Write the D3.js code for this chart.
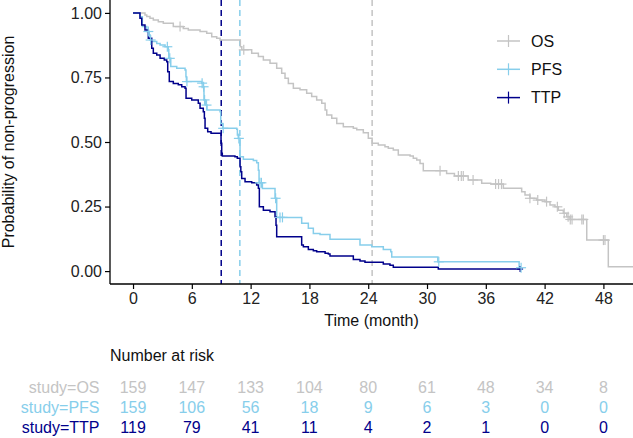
<!DOCTYPE html>
<html>
<head>
<meta charset="utf-8">
<script src="https://cdn.jsdelivr.net/npm/d3@7"></script>
<style>
body{margin:0;background:#fff;}
text{font-family:"Liberation Sans",Arial,sans-serif;}
</style>
</head>
<body>
<svg id="chart" width="633" height="438"></svg>
<script>
// curve steps: [time in months, survival after the step]
var osSteps=[[0,1],[1.22,0.992],[1.4,0.986],[1.73,0.979],[2.07,0.973],[2.58,0.966],[3.09,0.96],[4.11,0.947],[5.13,0.94],[5.64,0.934],[6.84,0.928],[7.52,0.921],[8.03,0.908],[8.54,0.902],[8.88,0.895],[10.95,0.869],[11.1,0.857],[12.11,0.844],[12.79,0.831],[13.3,0.818],[13.98,0.805],[14.66,0.786],[15.17,0.766],[15.51,0.747],[15.85,0.727],[16.36,0.708],[17.04,0.702],[17.72,0.689],[18.23,0.676],[18.74,0.663],[19.26,0.65],[19.6,0.624],[19.77,0.605],[20.28,0.592],[20.79,0.572],[21.46,0.559],[22.48,0.553],[22.83,0.547],[23.5,0.536],[24.01,0.515],[24.4,0.495],[25.03,0.488],[25.71,0.482],[26.05,0.476],[26.56,0.469],[27.07,0.45],[28.27,0.446],[28.6,0.437],[28.95,0.43],[29.29,0.417],[29.62,0.389],[32.0,0.378],[32.8,0.368],[34.2,0.353],[35.58,0.34],[36.5,0.337],[37.79,0.321],[39.66,0.307],[40.0,0.295],[40.51,0.282],[41.19,0.275],[42.04,0.269],[42.55,0.256],[43.06,0.249],[43.4,0.236],[43.91,0.224],[44.26,0.21],[44.59,0.2],[46.3,0.12],[48.5,0.017],[51.5,0.017]];
var pfsSteps=[[0,1],[0.71,0.985],[0.95,0.947],[1.4,0.928],[1.65,0.915],[1.73,0.895],[1.91,0.889],[2.42,0.882],[2.76,0.876],[3.27,0.869],[3.6,0.857],[3.65,0.824],[3.85,0.792],[4.46,0.786],[5.31,0.779],[5.4,0.753],[5.45,0.734],[7.01,0.728],[7.17,0.714],[7.24,0.663],[7.4,0.643],[7.55,0.624],[8.88,0.617],[8.95,0.572],[9.15,0.553],[10.58,0.549],[10.65,0.527],[10.74,0.514],[10.92,0.443],[11.26,0.433],[12.28,0.428],[12.62,0.42],[12.79,0.391],[12.86,0.342],[13.2,0.32],[14.49,0.282],[14.66,0.208],[17.21,0.185],[17.89,0.166],[18.4,0.146],[19.08,0.142],[20.1,0.123],[23.16,0.101],[24.36,0.094],[25.54,0.084],[26.3,0.075],[26.4,0.055],[31.1,0.036],[39.4,0.013],[39.6,0.013]];
var ttpSteps=[[0,1],[0.71,0.979],[0.89,0.953],[1.22,0.934],[1.56,0.902],[1.91,0.863],[2.07,0.844],[2.42,0.837],[2.76,0.824],[3.19,0.818],[3.44,0.811],[3.54,0.772],[3.7,0.734],[4.11,0.727],[4.62,0.722],[4.97,0.714],[5.31,0.708],[5.41,0.669],[5.99,0.663],[6.66,0.65],[6.84,0.631],[7.17,0.617],[7.28,0.592],[7.35,0.553],[7.62,0.54],[7.96,0.534],[8.98,0.495],[9.05,0.456],[9.11,0.446],[10.4,0.443],[10.64,0.437],[10.92,0.404],[11.0,0.385],[11.09,0.359],[11.43,0.346],[12.11,0.342],[12.62,0.333],[12.79,0.321],[12.89,0.249],[13.3,0.236],[13.98,0.23],[14.49,0.21],[14.59,0.178],[14.66,0.133],[17.21,0.101],[17.38,0.094],[17.89,0.084],[18.4,0.079],[18.74,0.075],[19.6,0.069],[19.93,0.066],[20.1,0.058],[22.48,0.045],[23.16,0.039],[23.67,0.034],[25.54,0.027],[26.22,0.023],[26.56,0.015],[31.15,0.008],[39.5,0.008]];

// censored observations: [time, survival]
var osCensor=[[4.8,0.947],[11.3,0.857],[31.33,0.389],[33.2,0.368],[33.5,0.368],[33.7,0.368],[34.7,0.353],[37.0,0.337],[37.3,0.337],[37.6,0.337],[40.5,0.282],[41.3,0.275],[42.2,0.269],[43.3,0.249],[44.0,0.224],[44.4,0.21],[44.62,0.2],[44.8,0.2],[45.8,0.2],[45.95,0.2],[48.0,0.12],[48.16,0.12]];
var pfsCensor=[[1.56,0.928],[1.8,0.895],[3.5,0.869],[3.75,0.824],[5.5,0.734],[7.05,0.728],[7.2,0.714],[7.3,0.663],[7.5,0.643],[9.2,0.553],[10.8,0.514],[12.95,0.342],[13.1,0.342],[14.55,0.282],[15.0,0.208],[15.25,0.208],[31.2,0.036],[39.6,0.013]];
var ttpCensor=[[39.5,0.008]];

// median survival times
var medians=[24.4,10.9,9.0];

var groups=['OS','PFS','TTP'];
var colors=['#c4c4c4','#87ceeb','#00008b'];
var riskTimes=[0,6,12,18,24,30,36,42,48];
var riskOS=[159,147,133,104,80,61,48,34,8];
var riskPFS=[159,106,56,18,9,6,3,0,0];
var riskTTP=[119,79,41,11,4,2,1,0,0];
var yTicks=[0,0.25,0.5,0.75,1];

var svg=d3.select('#chart');
var pLeft=110,pRight=633,pTop=0,pBottom=284;
var x=d3.scaleLinear().domain([-2.35,51.02]).range([pLeft,pRight]);
var y=d3.scaleLinear().domain([-0.05,1.05]).range([pBottom,pTop]);
var color=d3.scaleOrdinal().domain(groups).range(colors);

svg.append('clipPath').attr('id','panel').append('rect')
  .attr('x',pLeft).attr('y',pTop).attr('width',pRight-pLeft).attr('height',pBottom-pTop);
var plot=svg.append('g').attr('clip-path','url(#panel)');

// median lines
plot.selectAll('.med').data(medians).enter().append('line')
  .attr('x1',d=>x(d)).attr('x2',d=>x(d)).attr('y1',pTop).attr('y2',pBottom)
  .style('stroke',(d,i)=>color(groups[i])).style('stroke-width',1.5)
  .style('stroke-dasharray','6,4');

var line=d3.line().x(d=>x(d[0])).y(d=>y(d[1])).curve(d3.curveStepAfter);
var steps=[osSteps,pfsSteps,ttpSteps];
var censors=[osCensor,pfsCensor,ttpCensor];

steps.forEach((s,i)=>{
  plot.append('path').datum(s).attr('d',line)
    .style('fill','none').style('stroke',colors[i]).style('stroke-width',1.5);
});
// TTP marks first so the PFS crosses sit on top at the tail
[2,0,1].forEach(i=>{
  var g=plot.append('g').style('stroke',colors[i]).style('stroke-width',1.2);
  var half=i==2?3:5;
  censors[i].forEach(d=>{
    g.append('line').attr('x1',x(d[0])-half).attr('x2',x(d[0])+half).attr('y1',y(d[1])).attr('y2',y(d[1]));
    g.append('line').attr('x1',x(d[0])).attr('x2',x(d[0])).attr('y1',y(d[1])-half).attr('y2',y(d[1])+half);
  });
});

// axes
var xAxis=d3.axisBottom(x).tickValues(riskTimes).tickSize(5).tickPadding(4);
var yAxis=d3.axisLeft(y).tickValues(yTicks).tickSize(5).tickPadding(3).tickFormat(d3.format('.2f'));
var gx=svg.append('g').attr('transform','translate(0,'+pBottom+')').call(xAxis);
var gy=svg.append('g').attr('transform','translate('+pLeft+',0)').call(yAxis);
[gx,gy].forEach(g=>{
  g.select('.domain').remove();
  g.selectAll('.tick line').style('stroke','#000').style('stroke-width',1.2);
  g.selectAll('text').style('font-size','16px').style('fill','#222')
    .style('font-family','"Liberation Sans",Arial,sans-serif');
});
svg.append('line').attr('x1',pLeft).attr('x2',pRight).attr('y1',pBottom).attr('y2',pBottom)
  .style('stroke','#000').style('stroke-width',1.3);
svg.append('line').attr('x1',pLeft).attr('x2',pLeft).attr('y1',pTop).attr('y2',pBottom)
  .style('stroke','#000').style('stroke-width',1.3);

svg.append('text').text('Time (month)').attr('x',(pLeft+pRight)/2).attr('y',326)
  .attr('text-anchor','middle').style('font-size','16px').style('fill','#111');
svg.append('text').text('Probability of non-progression')
  .attr('transform','translate(14,142) rotate(-90)')
  .attr('text-anchor','middle').style('font-size','16px').style('fill','#111');

// legend
groups.forEach((g,i)=>{
  var ly=41+i*28.3;
  var lg=svg.append('g').style('stroke',colors[i]).style('stroke-width',1.5);
  lg.append('line').attr('x1',497).attr('x2',520).attr('y1',ly).attr('y2',ly);
  lg.append('line').attr('x1',508.5).attr('x2',508.5).attr('y1',ly-6).attr('y2',ly+6).style('stroke-width',1.2);
  svg.append('text').text(g).attr('x',531).attr('y',ly+5.5)
    .style('font-size','16px').style('fill','#111');
});

// number at risk table
svg.append('text').text('Number at risk').attr('x',110).attr('y',361)
  .style('font-size','16px').style('fill','#111');
var risk=[riskOS,riskPFS,riskTTP];
var rowY=[393,413,433];
risk.forEach((r,i)=>{
  svg.append('text').text('study='+groups[i]).attr('x',99.5).attr('y',rowY[i])
    .attr('text-anchor','end').style('font-size','16px').style('fill',colors[i]);
  svg.selectAll('.r'+i).data(r).enter().append('text')
    .text(d=>d).attr('x',(d,j)=>x(riskTimes[j])).attr('y',rowY[i])
    .attr('text-anchor','middle').style('font-size','16px').style('fill',colors[i]);
});
</script>
</body>
</html>
